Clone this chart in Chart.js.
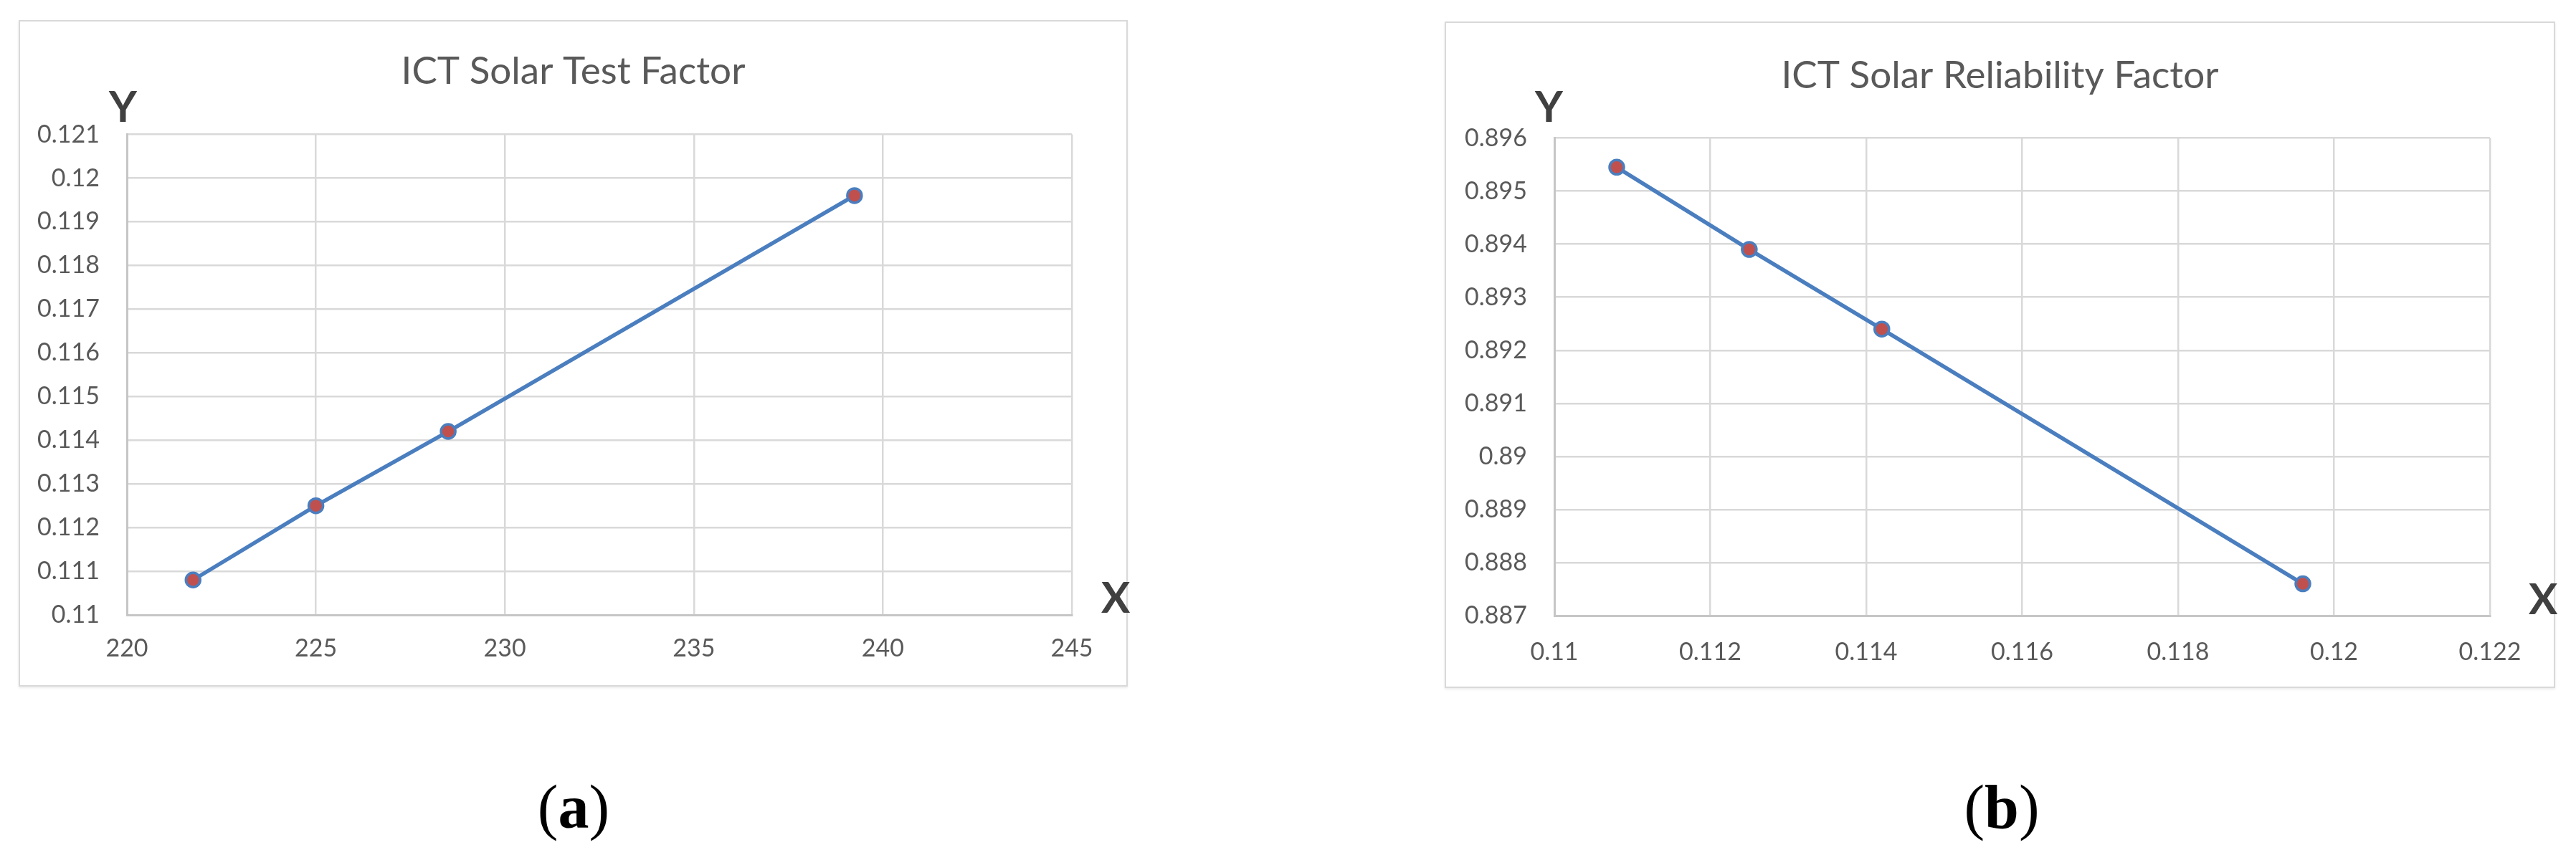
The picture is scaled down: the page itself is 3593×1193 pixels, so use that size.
<!DOCTYPE html>
<html>
<head>
<meta charset="utf-8">
<title>ICT Solar factors</title>
<script src="https://cdn.jsdelivr.net/npm/chart.js@4.4.1/dist/chart.umd.min.js"></script>
<style>
    html, body {
        margin: 0;
        padding: 0;
        background: #ffffff;
    }
    body {
        position: relative;
        width: 3593px;
        height: 1193px;
        overflow: hidden;
        font-family: Lato, sans-serif;
    }
    .box {
        position: absolute;
        box-sizing: border-box;
        border: 2px solid #d9d9d9;
        box-shadow: 0 2px 3px rgba(0, 0, 0, 0.08);
        background: #ffffff;
    }
    .box canvas {
        display: block;
    }
    .axis-letter {
        position: absolute;
        font-family: Lato, sans-serif;
        font-weight: bold;
        font-size: 60px;
        line-height: 1;
        color: #404040;
    }
    .caption {
        position: absolute;
        font-family: "Liberation Serif", "DejaVu Serif", serif;
        font-size: 86px;
        line-height: 1;
        color: #000000;
        transform: translateX(-50%);
        white-space: nowrap;
    }
    .caption b {
        font-weight: bold;
    }
</style>
</head>
<body>

<div class="box" style="left:26px; top:28px; width:1547px; height:930px;">
    <canvas id="test-chart" width="1543" height="926"></canvas>
</div>
<div class="box" style="left:2015px; top:30px; width:1549px; height:930px;">
    <canvas id="reliability-chart" width="1545" height="926"></canvas>
</div>

<div class="axis-letter" style="left:152px; top:117px;">Y</div>
<div class="axis-letter" style="left:1536px; top:802px;">X</div>
<div class="axis-letter" style="left:2141px; top:117px;">Y</div>
<div class="axis-letter" style="left:3527px; top:804px;">X</div>

<div class="caption" style="left:800px; top:1083px;">(<b>a</b>)</div>
<div class="caption" style="left:2792px; top:1083px;">(<b>b</b>)</div>

<script>
// Panel (a): ICT Solar Test Factor
const testTitle = 'ICT Solar Test Factor';
const testX = [221.75, 225.0, 228.5, 239.25];
const testY = [0.1108, 0.1125, 0.1142, 0.1196];
const testXTicks = [220, 245, 5];        // min, max, step
const testYTicks = [0.11, 0.121, 0.001];

// Panel (b): ICT Solar Reliability Factor
const relTitle = 'ICT Solar Reliability Factor';
const relX = [0.1108, 0.1125, 0.1142, 0.1196];
const relY = [0.89545, 0.8939, 0.8924, 0.8876];
const relXTicks = [0.11, 0.122, 0.002];
const relYTicks = [0.887, 0.896, 0.001];

const LINE_BLUE = '#4A7EBF';
const POINT_RED = '#C0504D';
const GRID_GRAY = '#d9d9d9';
const TEXT_GRAY = '#595959';

// Excel style number labels: 0.12 not 0.120
function excelLabel(value) {
    return String(Number(value.toFixed(4)));
}

function makeChart(canvasId, title, xs, ys, xTicks, yTicks, opts) {
    const ctx = document.getElementById(canvasId);
    const points = xs.map((x, i) => ({ x: x, y: ys[i] }));

    return new Chart(ctx, {
        type: 'line',
        data: {
            datasets: [{
                data: points,
                borderColor: LINE_BLUE,
                borderWidth: 5.5,
                tension: 0,
                fill: false,
                pointBackgroundColor: POINT_RED,
                pointBorderColor: LINE_BLUE,
                pointBorderWidth: 3.5,
                pointRadius: 10
            }]
        },
        options: {
            responsive: false,
            animation: false,
            events: [],
            layout: {
                padding: 0
            },
            plugins: {
                legend: { display: false },
                tooltip: { enabled: false },
                title: {
                    display: true,
                    text: title,
                    color: TEXT_GRAY,
                    font: { family: 'Lato, sans-serif', size: 53, weight: 'normal', lineHeight: 1.2 },
                    padding: { top: opts.titleTop, bottom: opts.titleBottom }
                }
            },
            scales: {
                x: {
                    type: 'linear',
                    min: xTicks[0],
                    max: xTicks[1],
                    afterFit: function(scale) { scale.height = opts.xHeight; },
                    ticks: {
                        stepSize: xTicks[2],
                        color: TEXT_GRAY,
                        padding: opts.xPad,
                        maxRotation: 0,
                        font: { family: 'Lato, sans-serif', size: 34 },
                        callback: function(value) { return excelLabel(value); }
                    },
                    grid: { color: GRID_GRAY, lineWidth: 2.5, drawTicks: false },
                    border: { color: '#c6c6c6', width: 3 }
                },
                y: {
                    type: 'linear',
                    min: yTicks[0],
                    max: yTicks[1],
                    afterFit: function(scale) { scale.width = opts.yWidth; },
                    ticks: {
                        stepSize: yTicks[2],
                        color: TEXT_GRAY,
                        padding: opts.yPad,
                        font: { family: 'Lato, sans-serif', size: 34 },
                        callback: function(value) { return excelLabel(value); }
                    },
                    grid: { color: GRID_GRAY, lineWidth: 2.5, drawTicks: false },
                    border: { color: '#c6c6c6', width: 3 }
                },
                // empty right-hand axis, only reserves the margin right of the plot
                spacer: {
                    type: 'linear',
                    position: 'right',
                    afterFit: function(scale) { scale.width = opts.rightGap; },
                    ticks: { display: false },
                    grid: { display: false },
                    border: { display: false }
                }
            }
        }
    });
}

makeChart('test-chart', testTitle, testX, testY, testXTicks, testYTicks, {
    yWidth: 149, rightGap: 76, xHeight: 98, xPad: 27, yPad: 38, titleTop: 38, titleBottom: 56
});

makeChart('reliability-chart', relTitle, relX, relY, relXTicks, relYTicks, {
    yWidth: 151, rightGap: 89, xHeight: 99, xPad: 31, yPad: 38, titleTop: 42, titleBottom: 55
});
</script>
</body>
</html>
